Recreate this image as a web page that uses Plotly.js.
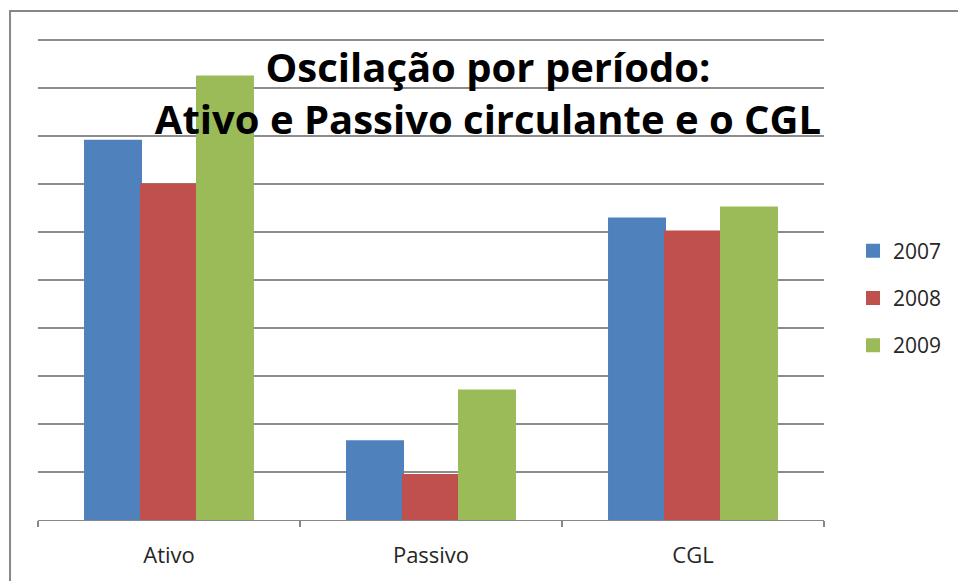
<!DOCTYPE html>
<html>
<head>
<meta charset="utf-8">
<script src="https://cdn.plot.ly/plotly-3.0.1.min.js"></script>
<style>
  html, body { margin: 0; padding: 0; background: #fff; }
  #chart { width: 958px; height: 581px; }
</style>
</head>
<body>
<div id="chart"></div>
<script>
const categories = ["Ativo", "Passivo", "CGL"];
const seriesNames = ["2007", "2008", "2009"];
const values2007 = [7.90, 1.64, 6.28];
const values2008 = [6.99, 0.94, 6.01];
const values2009 = [9.24, 2.70, 6.51];
const seriesColors = ["#4F81BD", "#C0504D", "#9BBB59"];

const allValues = [values2007, values2008, values2009];
const FONT = "Open Sans, Noto Sans, sans-serif";

const traces = allValues.map((vals, i) => ({
  type: "bar",
  name: seriesNames[i],
  x: categories,
  y: vals,
  legendgroup: "g" + i,
  marker: { color: seriesColors[i], line: { width: 2, color: seriesColors[i] } },
  hoverinfo: "x+y+name"
}));

const W = 958, H = 581;
const L = 38, R = 133, T = 16, B = 61;
const pw = W - L - R, ph = H - T - B;   // ph = 504 px -> 48 px per unit
const px = v => (v - L) / pw;
const py = v => (H - B - v) / ph;

const layout = {
  width: W, height: H,
  margin: { l: L, r: R, t: T, b: B, pad: 0 },
  paper_bgcolor: "#ffffff",
  plot_bgcolor: "rgba(0,0,0,0)",
  font: { family: FONT, color: "#262626", size: 21 },
  title: {
    text: "<b>Oscilação por período:</b><br><b>Ativo e Passivo circulante e o CGL</b>",
    font: { family: FONT, size: 40, color: "#000000" },
    x: 488 / W, xanchor: "center", xref: "container",
    y: 1 - 82 / H, yanchor: "top", yref: "container"
  },
  barmode: "group",
  bargap: 0.359,
  bargroupgap: 0,
  showlegend: true,
  legend: {
    x: px(853), xanchor: "left",
    y: py(298), yanchor: "middle",
    font: { family: FONT, size: 21, color: "#262626" },
    traceorder: "grouped",
    tracegroupgap: 17,
    bgcolor: "rgba(0,0,0,0)"
  },
  xaxis: {
    type: "category",
    showgrid: false,
    showline: true, linecolor: "#888888", linewidth: 1.3,
    ticks: "outside", tickson: "boundaries", ticklen: 6, tickcolor: "#888888", tickwidth: 1.3,
    tickfont: { family: FONT, size: 22, color: "#262626" },
    ticklabelstandoff: 15,
    zeroline: false
  },
  yaxis: {
    range: [0, ph / 48], dtick: 1, tick0: 0,
    showgrid: true, gridcolor: "#8c8c8c", gridwidth: 1.3,
    showticklabels: false, showline: false, zeroline: false, ticks: ""
  },
  shapes: [{
    type: "rect", xref: "paper", yref: "paper",
    x0: px(10), x1: px(975), y0: py(600), y1: py(11),
    line: { color: "#878787", width: 2 }, fillcolor: "rgba(0,0,0,0)", layer: "below"
  }]
};

Plotly.newPlot("chart", traces, layout, { displayModeBar: false, staticPlot: true });
</script>
</body>
</html>
